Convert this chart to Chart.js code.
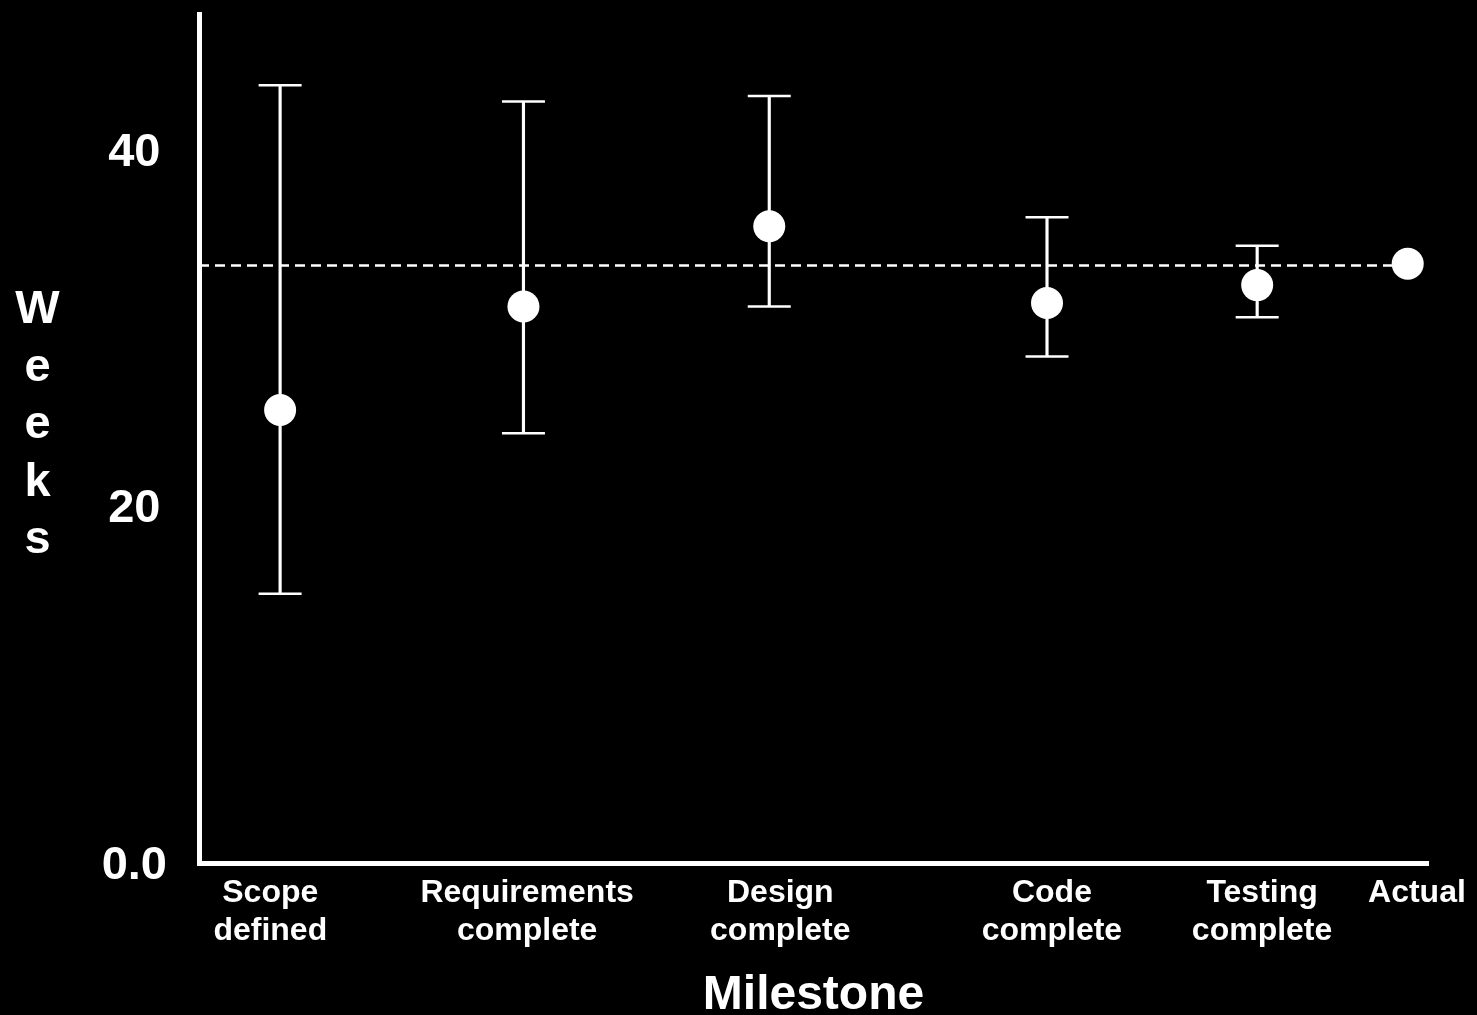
<!DOCTYPE html>
<html>
<head>
<meta charset="utf-8">
<title>Estimates by milestone</title>
<script src="https://cdn.jsdelivr.net/npm/chart.js@4"></script>
<style>
  html, body { margin: 0; padding: 0; background: #000; }
  canvas { display: block; }
</style>
</head>
<body>
<canvas id="chart" width="1477" height="1015"></canvas>
<script>
// Milestones, their positions along the x axis and where their labels sit
const milestones = [
  ["Scope", "defined"],
  ["Requirements", "complete"],
  ["Design", "complete"],
  ["Code", "complete"],
  ["Testing", "complete"],
  ["Actual"],
];
const milestoneX = [6.6, 26.4, 46.4, 69.0, 86.1, 98.35];
const labelX = [5.8, 26.7, 47.3, 69.4, 86.5, 99.1];

// Estimated weeks with low / high range (Actual has no range)
const estimate = [25.4, 31.2, 35.7, 31.4, 32.4, 33.6];
const rangeLow = [15.1, 24.1, 31.2, 28.4, 30.6, null];
const rangeHigh = [43.6, 42.7, 43.0, 36.2, 34.6, null];

// Reference line for the actual duration
const actualLine = 33.5;

const yTicks = [0, 20, 40];
const yTitle = "Weeks";
const xTitle = "Milestone";

const font = "'Liberation Sans', Arial, Helvetica, sans-serif";
const white = "#ffffff";

// Error bar pieces built from the arrays above
const stems = [];
const caps = [];
milestoneX.forEach((x, i) => {
  if (rangeLow[i] === null) return;
  stems.push({ x: x, y: [rangeLow[i], rangeHigh[i]] });
  caps.push({ x: x, y: rangeLow[i] });
  caps.push({ x: x, y: rangeHigh[i] });
});

// Vertical letter-by-letter y axis title
const stackedTitle = {
  id: "stackedTitle",
  afterDraw(chart) {
    const ctx = chart.ctx;
    ctx.save();
    ctx.fillStyle = white;
    ctx.font = "bold 47px " + font;
    ctx.textAlign = "center";
    ctx.textBaseline = "alphabetic";
    yTitle.split("").forEach((ch, i) => {
      ctx.fillText(ch, 37.5, 323 + i * 57.5);
    });
    ctx.restore();
  },
};

new Chart(document.getElementById("chart"), {
  type: "scatter",
  data: {
    datasets: [
      {
        type: "scatter",
        data: milestoneX.map((x, i) => ({ x: x, y: estimate[i] })),
        pointRadius: 16,
        pointBackgroundColor: white,
        pointBorderWidth: 0,
        order: 0,
      },
      {
        type: "scatter",
        data: caps,
        pointStyle: "line",
        pointRadius: 21.5,
        pointBorderColor: white,
        pointBorderWidth: 2.5,
        order: 1,
      },
      {
        type: "bar",
        data: stems,
        backgroundColor: white,
        barThickness: 2.5,
        order: 2,
      },
      {
        type: "line",
        data: [
          { x: 0, y: actualLine },
          { x: milestoneX[milestoneX.length - 1], y: actualLine },
        ],
        borderColor: white,
        borderWidth: 2.5,
        borderDash: [10, 6],
        pointRadius: 0,
        fill: false,
        order: 3,
      },
    ],
  },
  options: {
    responsive: false,
    animation: false,
    events: [],
    devicePixelRatio: 1,
    layout: {
      autoPadding: false,
      padding: { top: 14, right: 49, left: 0, bottom: 0 },
    },
    plugins: {
      legend: { display: false },
      tooltip: { enabled: false },
    },
    scales: {
      x: {
        type: "linear",
        offset: false,
        min: 0,
        max: 100,
        afterBuildTicks: (scale) => {
          scale.ticks = labelX.map((v) => ({ value: v }));
        },
        afterFit: (scale) => {
          scale.height = 152;
          scale.paddingLeft = 0;
          scale.paddingRight = 0;
        },
        ticks: {
          autoSkip: false,
          maxRotation: 0,
          padding: 11,
          color: white,
          font: { family: font, size: 32, weight: "bold", lineHeight: "38px" },
          callback: (value, index) => milestones[index],
        },
        grid: { display: true, color: "rgba(0,0,0,0)", drawTicks: false },
        border: { display: true, color: white, width: 5 },
        title: {
          display: true,
          text: xTitle,
          color: white,
          font: { family: font, size: 48, weight: "bold", lineHeight: "38px" },
          padding: { top: 0, bottom: 0 },
        },
      },
      y: {
        type: "linear",
        min: 0,
        max: 47.6,
        afterBuildTicks: (scale) => {
          scale.ticks = yTicks.map((v) => ({ value: v }));
        },
        afterFit: (scale) => {
          scale.width = 199;
          scale.paddingTop = 0;
          scale.paddingBottom = 0;
        },
        ticks: {
          padding: 32,
          labelOffset: 3,
          crossAlign: "center",
          color: white,
          font: { family: font, size: 47, weight: "bold" },
          callback: (value) => (value === 0 ? "0.0" : String(value)),
        },
        grid: { display: true, color: "rgba(0,0,0,0)", drawTicks: false },
        border: { display: true, color: white, width: 5 },
      },
    },
  },
  plugins: [stackedTitle],
});
</script>
</body>
</html>
